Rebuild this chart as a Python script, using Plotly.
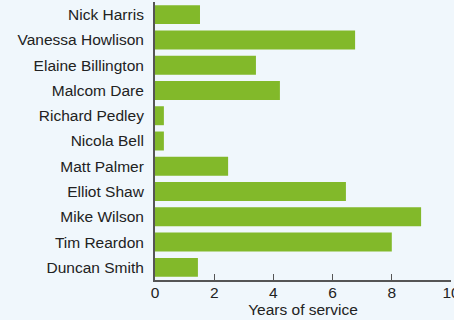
import plotly.graph_objects as go

names = ['Nick Harris', 'Vanessa Howlison', 'Elaine Billington', 'Malcom Dare',
         'Richard Pedley', 'Nicola Bell', 'Matt Palmer', 'Elliot Shaw',
         'Mike Wilson', 'Tim Reardon', 'Duncan Smith']
years = [1.52, 6.76, 3.41, 4.22, 0.3, 0.3, 2.47, 6.45, 8.99, 8.0, 1.45]
x_ticks = [0, 2, 4, 6, 8, 10]

bg = '#f0f7fc'
fig = go.Figure(go.Bar(x=years, y=names, orientation='h',
                       marker=dict(color='#82b92a', line=dict(width=0))))

fig.update_layout(
    width=454, height=320,
    margin=dict(l=155, r=3, t=2, b=40),
    paper_bgcolor=bg, plot_bgcolor=bg,
    font=dict(family='Liberation Sans, Arial, sans-serif', size=15.5, color='#222222'),
    bargap=0.25,
    showlegend=False,
)
fig.update_xaxes(range=[0, 10], tickvals=x_ticks, showgrid=False, zeroline=False,
                 showline=True, linecolor='#555555', linewidth=2,
                 ticks='inside', ticklen=6, tickcolor='#555555',
                 ticklabeloverflow='allow', ticklabelstandoff=-3, automargin=False,
                 title=dict(text='Years of service', standoff=5, font=dict(size=15.5)))
fig.update_yaxes(autorange='reversed', showgrid=False, zeroline=False,
                 showline=True, linecolor='#555555', linewidth=2,
                 ticks='', ticklabelstandoff=6, automargin=False)

# the page body has a default 8px margin; drop it so the figure sits at 0,0
fig.write_html("out.html", config={'displayModeBar': False},
               post_script="document.body.style.margin='0';document.body.style.background='%s';" % bg)
